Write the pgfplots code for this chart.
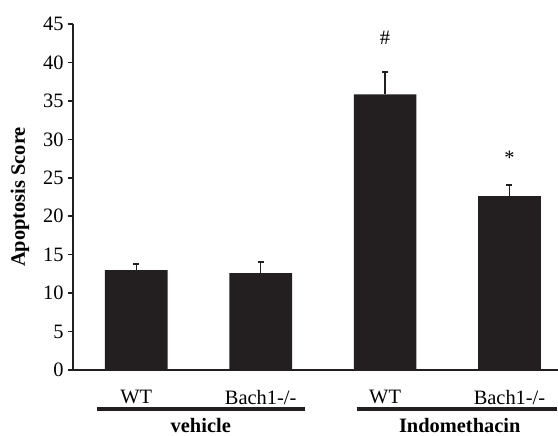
\documentclass[border=0pt]{standalone}
\usepackage{fontspec}
\setmainfont[Scale=2.05]{Liberation Serif}
\usepackage{pgfplots}
\pgfplotsset{compat=1.18}
\definecolor{barc}{HTML}{231F20}
\begin{document}
\begin{tikzpicture}
\begin{axis}[name=ax, scale only axis, width=484.5bp, height=346bp,
 xmin=-0.505, xmax=3.39, ymin=0, ymax=45,
 axis x line*=bottom, axis y line*=left,
 axis line style={line width=2bp, color=barc},
 ytick={0,5,...,45}, tick align=outside, major tick length=5bp,
 ytick style={line width=1.5bp, color=barc},
 xtick={0,1,2,3}, xticklabels={WT,Bach1-/-,WT,Bach1-/-},
 xtick style={draw=none},
 xticklabel style={yshift=-8bp},
 yticklabel style={xshift=2bp},
 /pgf/number format/assume math mode=true,
 ylabel={\bfseries Apoptosis Score},
 ylabel style={at={(axis description cs:0,0.5)}, anchor=center, yshift=53.5bp},
 clip=false,
 ]
\addplot[ybar, bar width=0.504, fill=barc, draw=none,
  error bars/.cd, y dir=plus, y explicit, error bar style={line width=1.5bp, color=barc}, error mark options={rotate=90, mark size=3bp, line width=1.8bp, color=barc}]
 table[x=x, y=y, y error=e] {
 x y e
 0 13.0 0.8
 1 12.6 1.4
 2 35.85 2.95
 3 22.6 1.5
 };
\node[anchor=base] at (axis cs:2,42.3) {\#};
\node[anchor=base] at (axis cs:3,26.7) {*};
\draw[line width=4bp, barc] ([yshift=-39bp]axis cs:-0.318,0) -- ([yshift=-39bp]axis cs:1.355,0);
\draw[line width=4bp, barc] ([yshift=-39bp]axis cs:1.772,0) -- ([yshift=-39bp]axis cs:3.382,0);
\node[font=\bfseries] at ([yshift=-56bp]axis cs:0.518,0) {vehicle};
\node[font=\bfseries] at ([yshift=-56bp]axis cs:2.6,0) {Indomethacin};
\end{axis}
\pgfresetboundingbox
\path ([shift={(-73.5bp,-66bp)}]ax.south west) rectangle ([yshift=24bp]ax.north east);
\end{tikzpicture}
\end{document}
